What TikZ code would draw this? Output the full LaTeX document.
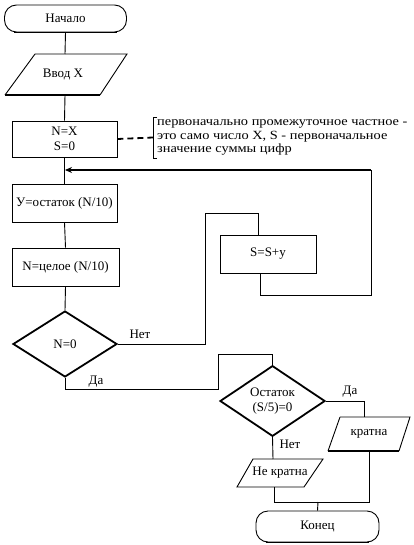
\documentclass[tikz,border=0pt]{standalone}
\usepackage{fontspec}
\setmainfont{Liberation Serif}
\newfontfamily\notefont{Liberation Serif}[FakeStretch=1.15]
\usetikzlibrary{shapes.geometric,arrows.meta}
\begin{document}
\begin{tikzpicture}[x=1pt,y=-1pt,
  thin/.style={line width=0.9pt},
  thick2/.style={line width=1.8pt},
  txt/.style={inner sep=0pt,font=\fontsize{13}{14}\selectfont},
  boxst/.style={draw,thin,rectangle,inner sep=0pt,font=\fontsize{13}{14.5}\selectfont,align=center},
  termst/.style={draw,thin,rectangle,rounded corners=12pt,inner sep=0pt,font=\fontsize{13}{14}\selectfont},
  decst/.style={draw,thick2,diamond,inner sep=0pt,font=\fontsize{13}{14.5}\selectfont,align=center},
  conn/.style={thin},
  lbl/.style={inner sep=0pt,font=\fontsize{13}{14}\selectfont}
]
\useasboundingbox[fill=white] (0,0) rectangle (413,545);

% terminals
\node[termst,minimum width=122pt,minimum height=27pt] (start) at (65.5,18.5) {Начало};
\draw[thick2] ([xshift=10pt]start.south west) -- ([xshift=-10pt]start.south east);
\node[termst,minimum width=123pt,minimum height=31pt] (end) at (317.5,526.5) {Конец};
\draw[thick2] ([xshift=10pt]end.south west) -- ([xshift=-10pt]end.south east);

% input parallelogram
\draw[thin] (35,54) -- (127,54) -- (100,95);
\draw[thin] (35,54) -- (5,95);
\draw[thick2] (5,95) -- (100,95);
\node[txt] (input) at (63,74.5) {Ввод X};
\coordinate (inTop) at (65,54);
\coordinate (inBot) at (65,95);

% boxes
\node[boxst,minimum width=105pt,minimum height=36pt] (init) at (64.5,139) {N=X\\S=0};
\node[boxst,minimum width=105pt,minimum height=38pt] (rem) at (64.5,203) {У=остаток (N/10)};
\node[boxst,minimum width=107pt,minimum height=38pt] (div) at (65.5,267) {N=целое (N/10)};
\node[boxst,minimum width=96pt,minimum height=38pt] (sum) at (268,254) {S=S+у};

% decisions
\node[decst,minimum width=104pt,minimum height=66pt] (cond) at (65,344) {N=0};
\node[decst,minimum width=105pt,minimum height=66pt] (cond2) at (272.5,401) {Остаток\\(S/5)=0};

% output parallelograms
\draw[thin] (340,417) -- (410,417) -- (399,451);
\draw[thin] (340,417) -- (328,451);
\draw[thick2] (328,451) -- (399,451);
\node[txt] (yes) at (369,434) {кратна};
\coordinate (yesTop) at (364,417);
\coordinate (yesBot) at (369,451);

\draw[thin] (253,459) -- (323,459) -- (304,487) -- (237,487) -- cycle;
\node[txt] (no) at (280,473) {Не кратна};
\coordinate (noTop) at (273,459);
\coordinate (noBot) at (274,487);

% comment
\coordinate (brk) at (153,137.5);
\draw[thin] (157,117) -- (153,117) -- (153,158) -- (157,158);
\draw[thick2,dash pattern=on 6pt off 4pt] (init.east) -- (brk);
\node[inner sep=0pt,anchor=west,align=left,font=\notefont\fontsize{12.5}{13.5}\selectfont] (note) at (157,137.5)
  {первоначально промежуточное частное -\\это само число X, S - первоначальное\\значение суммы цифр};

% connectors
\draw[conn] (start.south) -- (inTop);
\draw[conn] (inBot) -- (init.north);
\draw[conn] (init.south) -- (rem.north);
\draw[conn] (rem.south) -- (div.north);
\draw[conn] (div.south) -- (cond.north);

% Net branch to sum
\coordinate (n1) at (205,344);
\coordinate (n2) at (205,213);
\coordinate (n3) at (258,213);
\draw[conn] (cond.east) -- (n1) -- (n2) -- (n3) -- (n3 |- sum.north);
\node[lbl] (netA) at (140,334) {Нет};

% loop back
\coordinate (l0) at (260,273);
\coordinate (l1) at (260,295);
\coordinate (l2) at (371,295);
\coordinate (l3) at (371,170);
\coordinate (l4) at (65,170);
\draw[conn] (l0) -- (l1) -- (l2) -- (l3);
\draw[thick2,-{Stealth[length=7pt,width=6pt]}] (l3) -- (l4);

% Da branch
\coordinate (d1) at (65,389);
\coordinate (d2) at (218,389);
\coordinate (d3) at (218,354);
\coordinate (d4) at (272.5,354);
\draw[conn] (cond.south) -- (d1) -- (d2) -- (d3) -- (d4) -- (cond2.north);
\node[lbl] (daA) at (96,382) {Да};

% second decision
\coordinate (y1) at (364,401);
\draw[conn] (cond2.east) -- (y1) -- (yesTop);
\node[lbl] (daB) at (350,392) {Да};
\draw[conn] (cond2.south) -- (noTop);
\node[lbl] (netB) at (290,444) {Нет};

% merge
\coordinate (m1) at (274,502);
\coordinate (m2) at (369,502);
\coordinate (m3) at (318,502);
\draw[conn] (noBot) -- (m1) -- (m2) -- (yesBot);
\draw[conn] (m3) -- (end.north);
\end{tikzpicture}
\end{document}
